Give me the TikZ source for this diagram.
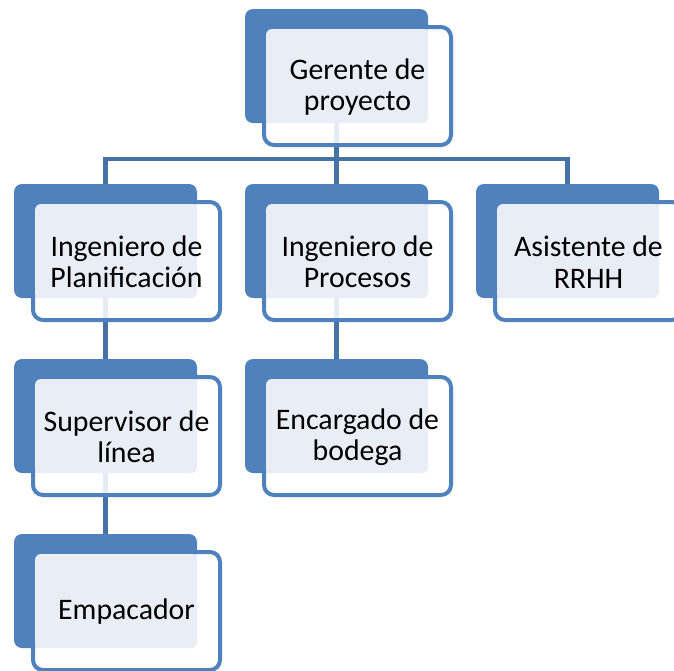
\documentclass[tikz,border=0pt]{standalone}
\usepackage{fontspec}
\setmainfont{Carlito}
\usetikzlibrary{calc}
\definecolor{accentblue}{HTML}{4F81BD}
\definecolor{lightfill}{HTML}{E9EEF6}
\definecolor{connblue}{HTML}{4672A6}
\tikzset{
  bluebox/.style={rectangle, rounded corners=8pt, fill=accentblue, minimum width=183pt, minimum height=114pt, inner sep=0pt, outer sep=0pt, anchor=north west},
  whitebox/.style={rectangle, rounded corners=10pt, draw=accentblue, line width=4pt, fill=white, fill opacity=0.86, minimum width=187pt, minimum height=118pt, inner sep=0pt, outer sep=0pt, anchor=north west},
  lightbox/.style={rectangle, rounded corners=6pt, fill=lightfill, minimum width=162pt, minimum height=94pt, inner sep=0pt, outer sep=0pt, anchor=north west},
  label/.style={align=center, font=\fontsize{29.8}{31.5}\selectfont, inner sep=0pt, text=black},
  conn/.style={draw=connblue, line width=4.5pt, line join=miter}
}
\newcommand\backunit[3]{\node[bluebox] (#1b) at (#2,#3) {};}
\newcommand\frontunit[4]{%
  \node[whitebox] (#1w) at ({#2+19},{#3+18}) {};
  \node[lightbox] (#1l) at ({#2+21},{#3+20}) {};
  \node[label] (#1t) at ([yshift=-1pt]#1w.center) {#4};
}
\begin{document}
\begin{tikzpicture}[x=1pt,y=-1pt]
\useasboundingbox (0,0) rectangle (674,670);
\clip (0,0) rectangle (674,670);
% back boxes
\backunit{g}{245}{9}
\backunit{p}{14}{184}
\backunit{r}{245}{184}
\backunit{a}{476}{184}
\backunit{s}{14}{359}
\backunit{e}{245}{359}
\backunit{m}{14}{534}
% connectors
\coordinate (bar) at (0,159);
\draw[conn] (gb.south) -- (gb.south |- bar) -| (pb.north);
\draw[conn] (gb.south |- bar) -| (ab.north);
\draw[conn] (gb.south) -- (rb.north);
\draw[conn] (pb.south) -- (sb.north);
\draw[conn] (sb.south) -- (mb.north);
\draw[conn] (rb.south) -- (eb.north);
% front boxes
\frontunit{g}{245}{9}{Gerente de\\proyecto}
\frontunit{p}{14}{184}{Ingeniero de\\Planificación}
\frontunit{r}{245}{184}{Ingeniero de\\Procesos}
\frontunit{a}{476}{184}{Asistente de\\RRHH}
\frontunit{s}{14}{359}{Supervisor de\\línea}
\frontunit{e}{245}{359}{Encargado de\\bodega}
\frontunit{m}{14}{534}{Empacador}
\end{tikzpicture}
\end{document}
